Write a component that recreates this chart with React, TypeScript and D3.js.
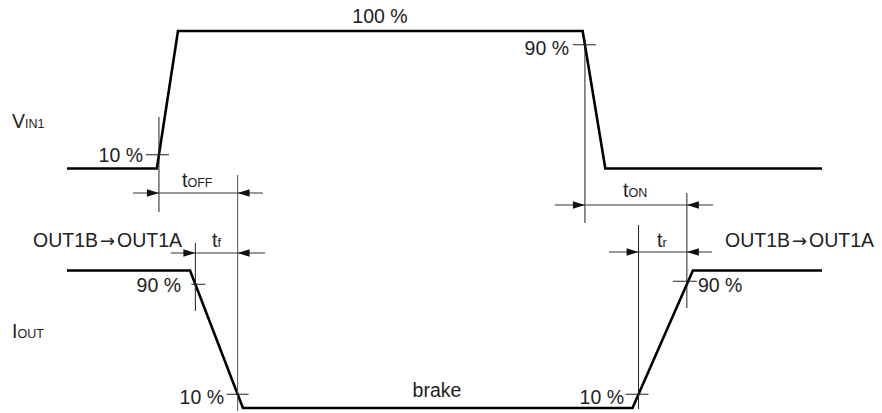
import React from "react";
import * as d3 from "d3";

// Waveform data: time (arbitrary units 0..100) and normalised level (0..1)
const vinTimes = [0, 11.9, 14.7, 68.3, 71.3, 100];
const vinLevels = [0, 0, 1, 1, 0, 0];
const ioutTimes = [0, 16.3, 23.3, 74.9, 82.9, 100];
const ioutLevels = [1, 1, 0, 0, 1, 1];

const W = 882;
const H = 413;
const FONT = "'Liberation Sans', Arial, Helvetica, sans-serif";
const FS = 19.5;
const SUB = 12.5;

const x = d3.scaleLinear().domain([0, 100]).range([67, 822]);
const yVin = d3.scaleLinear().domain([0, 1]).range([168.5, 31]);
const yIout = d3.scaleLinear().domain([0, 1]).range([408, 270.5]);

// time at which a segment crosses a given fraction of its transition
const cross = (t0: number, t1: number, frac: number) => t0 + (t1 - t0) * frac;

const vinRise10 = cross(vinTimes[1], vinTimes[2], 0.1);
const vinFall90 = cross(vinTimes[3], vinTimes[4], 0.1);
const ioutFall90 = cross(ioutTimes[1], ioutTimes[2], 0.1);
const ioutFall10 = cross(ioutTimes[1], ioutTimes[2], 0.9);
const ioutRise10 = cross(ioutTimes[3], ioutTimes[4], 0.1);
const ioutRise90 = cross(ioutTimes[3], ioutTimes[4], 0.9);

const line = d3.line<[number, number]>();

function Arrow({ tip, y, dir }: { tip: number; y: number; dir: 1 | -1 }) {
  const L = 12;
  const hw = 3.8;
  const base = tip - dir * L;
  return (
    <path
      d={`M${tip},${y}L${base},${y - hw}L${base},${y + hw}Z`}
      fill="#111"
    />
  );
}

function Dim({
  x1,
  x2,
  y,
  left,
  right,
}: {
  x1: number;
  x2: number;
  y: number;
  left: number;
  right: number;
}) {
  return (
    <g>
      <line x1={left} x2={right} y1={y} y2={y} stroke="#333" strokeWidth={1} />
      <Arrow tip={x1} y={y} dir={1} />
      <Arrow tip={x2} y={y} dir={-1} />
    </g>
  );
}

function VLine({ t, y1, y2, color = "#222" }: { t: number; y1: number; y2: number; color?: string }) {
  return <line x1={x(t)} x2={x(t)} y1={y1} y2={y2} stroke={color} strokeWidth={1} />;
}

function Tick({ t, y, a = 11, b = 11 }: { t: number; y: number; a?: number; b?: number }) {
  return <line x1={x(t) - a} x2={x(t) + b} y1={y} y2={y} stroke="#222" strokeWidth={1} />;
}

function Label({
  x: px,
  y,
  main,
  sub,
  anchor = "start",
}: {
  x: number;
  y: number;
  main: string;
  sub?: string;
  anchor?: "start" | "middle" | "end";
}) {
  return (
    <text x={px} y={y} fontFamily={FONT} fontSize={FS} fill="#222" textAnchor={anchor}>
      {main}
      {sub && <tspan fontSize={SUB}>{sub}</tspan>}
    </text>
  );
}

function Transition({ x: px, y }: { x: number; y: number }) {
  return (
    <text x={px} y={y} fontFamily={FONT} fontSize={FS} fill="#222">
      OUT1B
      <tspan fontFamily="'DejaVu Sans', sans-serif" fontSize={18} dx={2}>→</tspan>
      <tspan dx={2}>OUT1A</tspan>
    </text>
  );
}

export default function App() {
  const vinPts = vinTimes.map((t, i) => [x(t), yVin(vinLevels[i])] as [number, number]);
  const ioutPts = ioutTimes.map((t, i) => [x(t), yIout(ioutLevels[i])] as [number, number]);

  const yV10 = yVin(0.1);
  const yV90 = yVin(0.9);
  const yI90 = yIout(0.9);
  const yI10 = yIout(0.1);

  return (
    <svg
      width={W}
      height={H}
      style={{ position: "absolute", left: 0, top: 0, background: "#fff" }}
    >
      {/* waveforms */}
      <path d={line(vinPts) ?? ""} fill="none" stroke="#000" strokeWidth={2.6} strokeLinejoin="miter" />
      <path d={line(ioutPts) ?? ""} fill="none" stroke="#000" strokeWidth={2.6} strokeLinejoin="miter" />

      {/* vertical reference lines */}
      <VLine t={vinRise10} y1={117} y2={212} />
      <VLine t={ioutFall10} y1={175} y2={411} color="#555" />
      <VLine t={ioutFall90} y1={243} y2={311} />
      <VLine t={vinFall90} y1={40} y2={223} />
      <VLine t={ioutRise90} y1={193} y2={308} />
      <VLine t={ioutRise10} y1={225} y2={409} />

      {/* percentage ticks */}
      <Tick t={vinRise10} y={yV10} a={13} b={10} />
      <Tick t={vinFall90} y={yV90} a={12} b={11} />
      <Tick t={ioutFall90} y={yI90} a={4} b={10} />
      <Tick t={ioutFall10} y={yI10} a={11} b={11} />
      <Tick t={ioutRise90} y={yI90 - 3} a={14} b={10} />
      <Tick t={ioutRise10} y={yI10} a={13} b={10} />

      {/* dimension arrows */}
      <Dim x1={x(vinRise10)} x2={x(ioutFall10)} y={193} left={133} right={263} />
      <Dim x1={x(ioutFall90)} x2={x(ioutFall10)} y={253} left={171} right={265} />
      <Dim x1={x(vinFall90)} x2={x(ioutRise90)} y={205} left={555} right={713} />
      <Dim x1={x(ioutRise10)} x2={x(ioutRise90)} y={252} left={609} right={712} />

      {/* labels */}
      <Label x={12} y={128} main="V" sub="IN1" />
      <Label x={12} y={338} main="I" sub="OUT" />
      <Label x={380} y={23} main="100 %" anchor="middle" />
      <Label x={569} y={55} main="90 %" anchor="end" />
      <Label x={143} y={162} main="10 %" anchor="end" />
      <Label x={182} y={187} main="t" sub="OFF" />
      <Transition x={33} y={247} />
      <Label x={212} y={247} main="t" sub="f" />
      <Label x={181} y={292} main="90 %" anchor="end" />
      <Label x={224} y={404} main="10 %" anchor="end" />
      <Label x={437} y={397} main="brake" anchor="middle" />
      <Label x={624} y={404} main="10 %" anchor="end" />
      <Label x={623} y={197} main="t" sub="ON" />
      <Label x={657} y={247} main="t" sub="r" />
      <Label x={698} y={292} main="90 %" />
      <Transition x={725} y={247} />
    </svg>
  );
}
